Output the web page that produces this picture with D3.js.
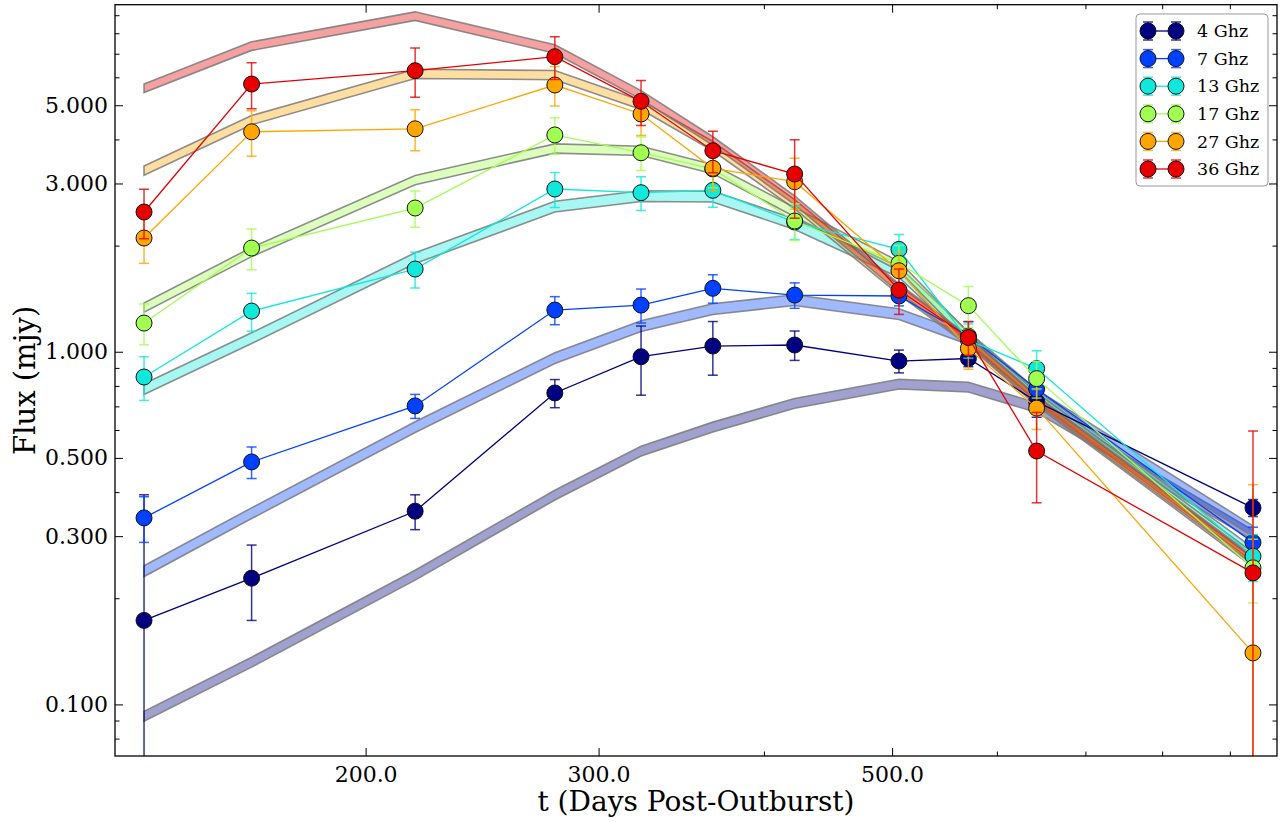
<!DOCTYPE html>
<html>
<head>
<meta charset="utf-8">
<script src="https://cdn.jsdelivr.net/npm/d3@7"></script>
<style>
  body { margin: 0; background: #fff; }
  svg text { font-family: "DejaVu Serif", serif; fill: #000; }
</style>
</head>
<body>
<div id="chart"></div>
<script>
// observation epochs (days post-outburst)
var days = [136, 164, 218, 278, 323, 366, 422, 506, 571, 643, 937];

var freqNames = ["4 Ghz", "7 Ghz", "13 Ghz", "17 Ghz", "27 Ghz", "36 Ghz"];
var freqColors = ["#000080", "#0040ff", "#10e8dc", "#a0ff50", "#ffa500", "#e60000"];

// measured flux (mjy)
var flux4  = [0.173, 0.228, 0.353, 0.764, 0.968, 1.038, 1.045, 0.941, 0.957, 0.722, 0.361];
var flux7  = [0.338, 0.487, 0.702, 1.313, 1.356, 1.513, 1.448, 1.439, 1.108, 0.784, 0.288];
var flux13 = [0.848, 1.304, 1.716, 2.894, 2.825, 2.869, 2.332, 1.951, 1.079, 0.896, 0.263];
var flux17 = [1.206, 1.968, 2.556, 4.118, 3.667, 3.298, 2.348, 1.781, 1.351, 0.839, 0.244];
var flux27 = [2.101, 4.204, 4.287, 5.706, 4.723, 3.313, 3.035, 1.697, 1.022, 0.692, 0.140];
var flux36 = [2.490, 5.743, 6.265, 6.865, 5.130, 3.716, 3.191, 1.496, 1.097, 0.523, 0.236];

// flux errors (mjy)
var err4  = [0.22, 0.055, 0.04, 0.07, 0.215, 0.18, 0.10, 0.07, 0.05, 0.07, 0.02];
var err7  = [0.05, 0.05, 0.055, 0.12, 0.15, 0.14, 0.12, 0.09, 0.11, 0.08, 0.03];
var err13 = [0.12, 0.16, 0.20, 0.33, 0.31, 0.30, 0.25, 0.20, 0.12, 0.11, 0.04];
var err17 = [0.16, 0.26, 0.30, 0.49, 0.40, 0.38, 0.28, 0.22, 0.18, 0.10, 0.05];
var err27 = [0.32, 0.62, 0.57, 0.73, 0.62, 0.45, 0.50, 0.22, 0.13, 0.09, 0.28];
var err36 = [0.40, 0.86, 1.00, 0.95, 0.75, 0.50, 0.80, 0.22, 0.12, 0.15, 0.36];

// model light curves (band centres)
var model4  = [0.0926, 0.1318, 0.2326, 0.3923, 0.523, 0.612, 0.714, 0.8097, 0.7941, 0.695, 0.302];
var model7  = [0.2388, 0.3487, 0.6115, 0.9597, 1.183, 1.322, 1.402, 1.279, 1.086, 0.754, 0.310];
var model13 = [0.784, 1.094, 1.844, 2.58, 2.764, 2.755, 2.302, 1.683, 1.101, 0.754, 0.2686];
var model17 = [1.335, 1.918, 3.069, 3.771, 3.714, 3.298, 2.490, 1.750, 1.101, 0.744, 0.2617];
var model27 = [3.266, 4.54, 6.14, 6.09, 5.01, 3.83, 2.62, 1.496, 1.072, 0.725, 0.2532];
var model36 = [5.59, 7.36, 8.95, 7.22, 5.35, 3.96, 2.69, 1.516, 1.08, 0.73, 0.2566];
// relative half-width of each model band
var modelFrac = [0.032, 0.035, 0.035, 0.03, 0.03, 0.028];

var fluxes = [flux4, flux7, flux13, flux17, flux27, flux36];
var errs = [err4, err7, err13, err17, err27, err36];
var models = [model4, model7, model13, model17, model27, model36];

var series = freqNames.map(function(name, i) {
    return {
        name: name,
        color: freqColors[i],
        points: days.map(function(t, j) { return {t: t, v: fluxes[i][j], e: errs[i][j]}; }),
        band: days.map(function(t, j) {
            return {t: t, lo: models[i][j] * (1 - modelFrac[i]), hi: models[i][j] * (1 + modelFrac[i])};
        })
    };
});

var W = 1284, H = 822;
var margin = {top: 4.7, right: 7, bottom: 66, left: 115};
var width = W - margin.left - margin.right;
var height = H - margin.top - margin.bottom;

var svg = d3.select("#chart").append("svg")
    .attr("width", W)
    .attr("height", H);

var g = svg.append("g")
    .attr("transform", "translate(" + margin.left + "," + margin.top + ")");

var x = d3.scaleLog().domain([129.3, 977]).range([0, width]);
var y = d3.scaleLog().domain([0.0714, 9.64]).range([height, 0]);

svg.append("defs").append("clipPath").attr("id", "clip")
    .append("rect").attr("width", width).attr("height", height);

var plot = g.append("g").attr("clip-path", "url(#clip)");

// model bands
var area = d3.area()
    .x(function(d) { return x(d.t); })
    .y0(function(d) { return y(d.lo); })
    .y1(function(d) { return y(d.hi); });

plot.selectAll(".band")
    .data(series)
    .enter()
    .append("path")
    .attr("class", "band")
    .attr("d", function(d) { return area(d.band); })
    .attr("fill", function(d) { return d.color; })
    .attr("fill-opacity", 0.37)
    .attr("stroke", "#7a7a7a")
    .attr("stroke-opacity", 0.85)
    .attr("stroke-width", 1.6);

var line = d3.line()
    .x(function(d) { return x(d.t); })
    .y(function(d) { return y(d.v); });

var capW = 5;

series.forEach(function(s) {
    var sg = plot.append("g");
    sg.append("path")
        .attr("d", line(s.points))
        .attr("fill", "none")
        .attr("stroke", s.color)
        .attr("stroke-width", 1.3);

    var eb = sg.selectAll(".eb")
        .data(s.points)
        .enter()
        .append("g")
        .attr("stroke", s.color)
        .attr("stroke-opacity", 0.8)
        .attr("stroke-width", 1.5);

    eb.append("line")
        .attr("x1", function(d) { return x(d.t); })
        .attr("x2", function(d) { return x(d.t); })
        .attr("y1", function(d) { return y(d.v + d.e); })
        .attr("y2", function(d) { return d.v - d.e > 0 ? y(d.v - d.e) : height + 20; });
    eb.append("line")
        .attr("x1", function(d) { return x(d.t) - capW; })
        .attr("x2", function(d) { return x(d.t) + capW; })
        .attr("y1", function(d) { return y(d.v + d.e); })
        .attr("y2", function(d) { return y(d.v + d.e); });
    eb.filter(function(d) { return d.v - d.e > 0; })
        .append("line")
        .attr("x1", function(d) { return x(d.t) - capW; })
        .attr("x2", function(d) { return x(d.t) + capW; })
        .attr("y1", function(d) { return y(d.v - d.e); })
        .attr("y2", function(d) { return y(d.v - d.e); });

    sg.selectAll("circle")
        .data(s.points)
        .enter()
        .append("circle")
        .attr("cx", function(d) { return x(d.t); })
        .attr("cy", function(d) { return y(d.v); })
        .attr("r", 8)
        .attr("fill", s.color)
        .attr("stroke", "#111")
        .attr("stroke-width", 1);
});

// axes: ticks pointing inward on all four sides
var xMajor = [200, 300, 500], xMinor = [400, 600, 700, 800, 900];
var yMajor = [0.1, 0.3, 0.5, 1, 3, 5];
var yMinor = [0.08, 0.09, 0.2, 0.4, 0.6, 0.7, 0.8, 0.9, 2, 4, 6, 7, 8, 9];

function styleAxis(sel) {
    sel.select(".domain").remove();
    sel.selectAll(".tick line").attr("stroke", "#000").attr("stroke-width", 1);
    sel.selectAll(".tick text").style("font-family", "DejaVu Serif").style("font-size", "22px");
}

g.append("g").attr("transform", "translate(0," + height + ")")
    .call(d3.axisBottom(x).tickValues(xMajor).tickFormat(d3.format(".1f")).tickSizeInner(-8).tickSizeOuter(0).tickPadding(10))
    .call(styleAxis);
g.append("g").attr("transform", "translate(0," + height + ")")
    .call(d3.axisBottom(x).tickValues(xMinor).tickFormat("").tickSizeInner(-4.5).tickSizeOuter(0))
    .call(styleAxis);
g.append("g")
    .call(d3.axisTop(x).tickValues(xMajor).tickFormat("").tickSizeInner(-8).tickSizeOuter(0))
    .call(styleAxis);
g.append("g")
    .call(d3.axisTop(x).tickValues(xMinor).tickFormat("").tickSizeInner(-4.5).tickSizeOuter(0))
    .call(styleAxis);

g.append("g")
    .call(d3.axisLeft(y).tickValues(yMajor).tickFormat(d3.format(".3f")).tickSizeInner(-8).tickSizeOuter(0).tickPadding(7))
    .call(styleAxis);
g.append("g")
    .call(d3.axisLeft(y).tickValues(yMinor).tickFormat("").tickSizeInner(-4.5).tickSizeOuter(0))
    .call(styleAxis);
g.append("g").attr("transform", "translate(" + width + ",0)")
    .call(d3.axisRight(y).tickValues(yMajor).tickFormat("").tickSizeInner(-8).tickSizeOuter(0))
    .call(styleAxis);
g.append("g").attr("transform", "translate(" + width + ",0)")
    .call(d3.axisRight(y).tickValues(yMinor).tickFormat("").tickSizeInner(-4.5).tickSizeOuter(0))
    .call(styleAxis);

g.append("rect")
    .attr("width", width)
    .attr("height", height)
    .attr("fill", "none")
    .attr("stroke", "#000")
    .attr("stroke-width", 1.3);

// axis titles
svg.append("text")
    .attr("x", margin.left + width / 2)
    .attr("y", 811)
    .attr("text-anchor", "middle")
    .style("font-size", "28px")
    .text("t (Days Post-Outburst)");

svg.append("text")
    .attr("transform", "translate(35," + (margin.top + height / 2) + ") rotate(-90)")
    .attr("text-anchor", "middle")
    .style("font-size", "29px")
    .text("Flux (mjy)");

// legend
var legend = svg.append("g").attr("transform", "translate(1136,14)");
legend.append("rect")
    .attr("width", 132)
    .attr("height", 172)
    .attr("rx", 4)
    .attr("fill", "#fff")
    .attr("stroke", "#999")
    .attr("stroke-width", 1);

var rows = legend.selectAll(".row")
    .data(series)
    .enter()
    .append("g")
    .attr("transform", function(d, i) { return "translate(0," + (17 + i * 27.6) + ")"; });

rows.append("line")
    .attr("x1", 12).attr("x2", 40)
    .attr("stroke", function(d) { return d.color; })
    .attr("stroke-width", 1.3);

[12, 40].forEach(function(cx) {
    rows.append("line")
        .attr("x1", cx).attr("x2", cx).attr("y1", -9).attr("y2", 9)
        .attr("stroke", function(d) { return d.color; })
        .attr("stroke-opacity", 0.8).attr("stroke-width", 1.5);
    rows.append("line")
        .attr("x1", cx - capW).attr("x2", cx + capW).attr("y1", -9).attr("y2", -9)
        .attr("stroke", function(d) { return d.color; })
        .attr("stroke-opacity", 0.8).attr("stroke-width", 1.5);
    rows.append("line")
        .attr("x1", cx - capW).attr("x2", cx + capW).attr("y1", 9).attr("y2", 9)
        .attr("stroke", function(d) { return d.color; })
        .attr("stroke-opacity", 0.8).attr("stroke-width", 1.5);
    rows.append("circle")
        .attr("cx", cx).attr("r", 8)
        .attr("fill", function(d) { return d.color; })
        .attr("stroke", "#111").attr("stroke-width", 1);
});

rows.append("text")
    .attr("x", 61)
    .attr("dy", "0.35em")
    .style("font-size", "17.5px")
    .text(function(d) { return d.name; });
</script>
</body>
</html>
